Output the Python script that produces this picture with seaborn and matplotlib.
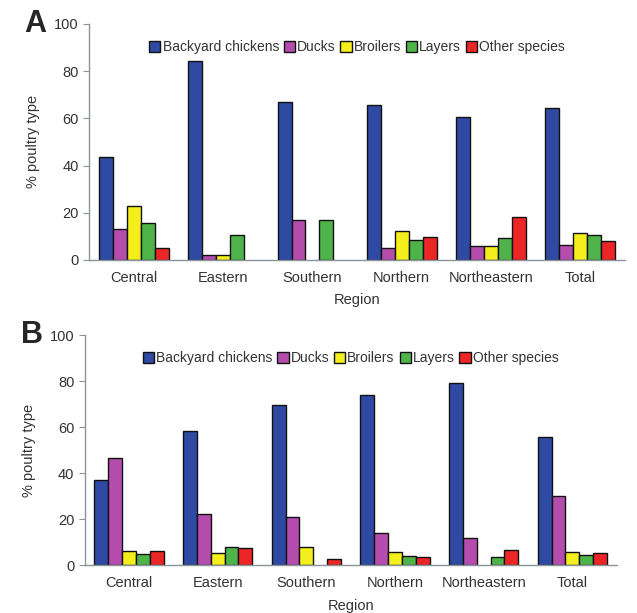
import numpy as np
import pandas as pd
import matplotlib
matplotlib.use('Agg')
import matplotlib.pyplot as plt
import seaborn as sns

regions = ['Central', 'Eastern', 'Southern', 'Northern', 'Northeastern', 'Total']
types = ['Backyard chickens', 'Ducks', 'Broilers', 'Layers', 'Other species']
colors = ['#2F4AA3', '#B54DAE', '#F4EE1C', '#4EB44A', '#EC2626']

# panel A, % per poultry type
a_chickens = [43.8, 84.3, 66.8, 65.7, 60.7, 64.3]
a_ducks = [13.0, 2.1, 16.9, 4.9, 6.1, 6.4]
a_broilers = [23.0, 2.1, 0.0, 12.3, 6.1, 11.3]
a_layers = [15.5, 10.6, 16.7, 8.5, 9.2, 10.6]
a_other = [5.2, 0.0, 0.0, 9.6, 18.2, 8.2]

# panel B
b_chickens = [37.2, 58.4, 69.6, 73.9, 79.1, 55.7]
b_ducks = [46.8, 22.1, 20.8, 14.0, 12.0, 30.0]
b_broilers = [6.2, 5.5, 7.9, 5.9, 0.0, 5.8]
b_layers = [4.9, 7.9, 0.0, 4.0, 3.6, 4.6]
b_other = [6.3, 7.4, 2.7, 3.5, 6.6, 5.2]


def make_df(series):
    rows = []
    for t, vals in zip(types, series):
        for r, v in zip(regions, vals):
            rows.append({'Region': r, 'Type': t, 'Percent': v})
    return pd.DataFrame(rows)


df_a = make_df([a_chickens, a_ducks, a_broilers, a_layers, a_other])
df_b = make_df([b_chickens, b_ducks, b_broilers, b_layers, b_other])

sns.set_style('white')
plt.rcParams['font.family'] = ['Liberation Sans', 'DejaVu Sans']

fig = plt.figure(figsize=(6.37, 6.13), dpi=100)
ax_a = fig.add_axes([0.140, 0.576, 0.841, 0.385])
ax_b = fig.add_axes([0.133, 0.078, 0.835, 0.375])

grey = '#8c9399'
txt = '#333333'

for ax, df, letter in [(ax_a, df_a, 'A'), (ax_b, df_b, 'B')]:
    sns.barplot(data=df, x='Region', y='Percent', hue='Type', palette=colors,
                order=regions, hue_order=types, width=0.78, gap=0, saturation=1,
                edgecolor='black', linewidth=1.0, ax=ax)
    # hide empty bars
    for p in ax.patches:
        p.set_edgecolor('#111111')
        if p.get_height() == 0:
            p.set_linewidth(0)
    ax.set_ylim(0, 100)
    ax.set_xlim(-0.5, 5.5)
    ax.set_yticks(np.arange(0, 101, 20))
    ax.set_xticks(np.arange(-0.5, 6, 1), minor=True)
    ax.tick_params(axis='x', which='major', length=0, labelsize=10.5, pad=8, labelcolor=txt)
    ax.tick_params(axis='x', which='minor', length=4, color=grey, direction='out')
    ax.tick_params(axis='y', length=4, color=grey, labelsize=10.5, labelcolor=txt, left=True)
    for s in ['top', 'right']:
        ax.spines[s].set_visible(False)
    for s in ['left', 'bottom']:
        ax.spines[s].set_color(grey)
        ax.spines[s].set_linewidth(1.0)
    ax.set_xlabel('Region', fontsize=10.5, color=txt, labelpad=6)
    ax.set_ylabel('% poultry type', fontsize=10.5, color=txt, labelpad=10)
    leg = ax.legend(ncol=5, frameon=False, loc='upper center', bbox_to_anchor=(0.5, 0.955),
                    handlelength=0.8, handleheight=0.8, handletextpad=0.15,
                    columnspacing=0.35, fontsize=10, borderaxespad=0)
    for h in leg.legend_handles:
        h.set_edgecolor('#111111')
        h.set_linewidth(1.0)
    for t in leg.get_texts():
        t.set_color(txt)
    ax.text(-0.1, 1.0, letter, transform=ax.transAxes, fontsize=22,
            fontweight='bold', va='center', ha='center')

fig.savefig('out.png', dpi=100)
